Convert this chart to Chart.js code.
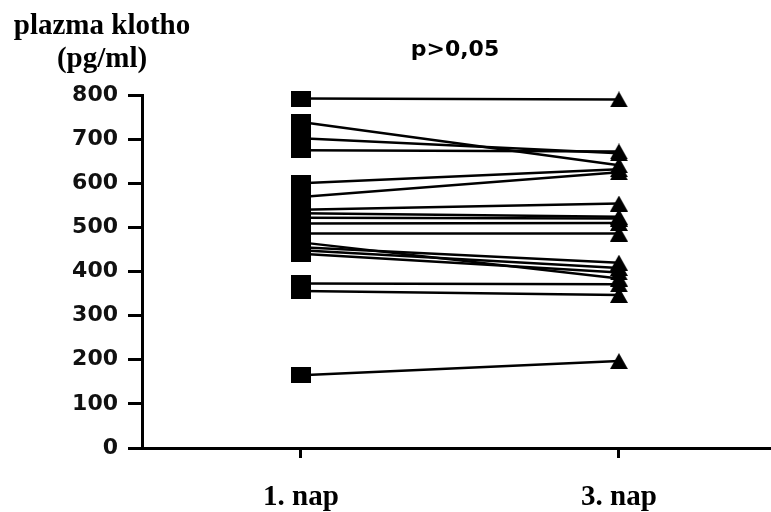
<!DOCTYPE html>
<html>
<head>
<meta charset="utf-8">
<script src="https://cdn.jsdelivr.net/npm/chart.js@4"></script>
<style>
  body { margin: 0; background: #fff; }
</style>
</head>
<body>
<canvas id="klotho" width="771" height="512"></canvas>
<script>
// adatok leolvasva a kepről
const napok = ["1. nap", "3. nap"]
const napX = [1, 3]
const nap1 = [792, 739, 702, 675, 600, 569, 540, 532, 522, 509, 486, 466, 455, 448, 440, 373, 356, 165]
const nap3 = [790, 641, 668, 672, 632, 625, 554, 524, 520, 510, 486, 384, 420, 408, 398, 371, 347, 197]
const yTicks = [0, 100, 200, 300, 400, 500, 600, 700, 800]
const yCim = ["plazma klotho", "(pg/ml)"]
const pErtek = "p>0,05"

function negyzet(w, h) {
  const c = document.createElement("canvas")
  c.width = w
  c.height = h
  const g = c.getContext("2d")
  g.fillStyle = "#000"
  g.fillRect(0, 0, w, h)
  return c
}

function haromszog(w, h) {
  const c = document.createElement("canvas")
  c.width = w
  c.height = h
  const g = c.getContext("2d")
  g.fillStyle = "#000"
  g.beginPath()
  g.moveTo(w / 2, 0)
  g.lineTo(w, h)
  g.lineTo(0, h)
  g.closePath()
  g.fill()
  return c
}

const jelNegyzet = negyzet(20, 16)
const jelHaromszog = haromszog(18, 16)

// kis sugar, hogy a chart ne hagyjon helyet a jeleknek
const datasets = nap1.map((v, i) => ({
  data: [{ x: napX[0], y: v }, { x: napX[1], y: nap3[i] }],
  borderColor: "#000",
  borderWidth: 2.5,
  pointStyle: [jelNegyzet, jelHaromszog],
  pointRadius: 0.1,
  pointBorderWidth: 0,
  pointHoverRadius: 0.1,
  pointHoverBorderWidth: 0,
  clip: false
}))

const szovegek = {
  id: "szovegek",
  afterDraw(chart) {
    const ctx = chart.ctx
    ctx.save()
    ctx.fillStyle = "#000"
    ctx.textAlign = "center"
    ctx.textBaseline = "alphabetic"
    ctx.font = "bold 29px 'Liberation Serif'"
    ctx.fillText(yCim[0], 102, 34)
    ctx.fillText(yCim[1], 102, 67)
    ctx.font = "bold 22px 'DejaVu Sans'"
    ctx.fillText(pErtek, 455, 56)
    ctx.restore()
  }
}

new Chart(document.getElementById("klotho"), {
  type: "line",
  data: { datasets: datasets },
  plugins: [szovegek],
  options: {
    responsive: false,
    animation: false,
    layout: { padding: { top: 95, right: 0, bottom: 0, left: 0 } },
    plugins: {
      legend: { display: false },
      tooltip: { enabled: false }
    },
    scales: {
      x: {
        type: "linear",
        min: 0,
        max: 3.956,
        afterFit: s => {
          s.height = 64
          s.paddingLeft = 0
          s.paddingRight = 0
        },
        afterBuildTicks: s => { s.ticks = napX.map(v => ({ value: v })) },
        border: { display: true, color: "#000", width: 3 },
        grid: { drawOnChartArea: false, drawTicks: true, tickLength: 10, color: "#000", lineWidth: 3 },
        ticks: {
          padding: 22,
          color: "#000",
          font: { family: "Liberation Serif", weight: "bold", size: 29 },
          callback: v => napok[napX.indexOf(v)]
        }
      },
      y: {
        min: 0,
        max: 800,
        afterFit: s => { s.width = 142 },
        afterBuildTicks: s => { s.ticks = yTicks.map(v => ({ value: v })) },
        border: { display: true, color: "#000", width: 3 },
        grid: { drawOnChartArea: false, drawTicks: true, tickLength: 14, color: "#000", lineWidth: 3 },
        ticks: {
          padding: 10,
          color: "#111",
          font: { family: "DejaVu Sans", weight: "bold", size: 22 }
        }
      }
    }
  }
})
</script>
</body>
</html>
